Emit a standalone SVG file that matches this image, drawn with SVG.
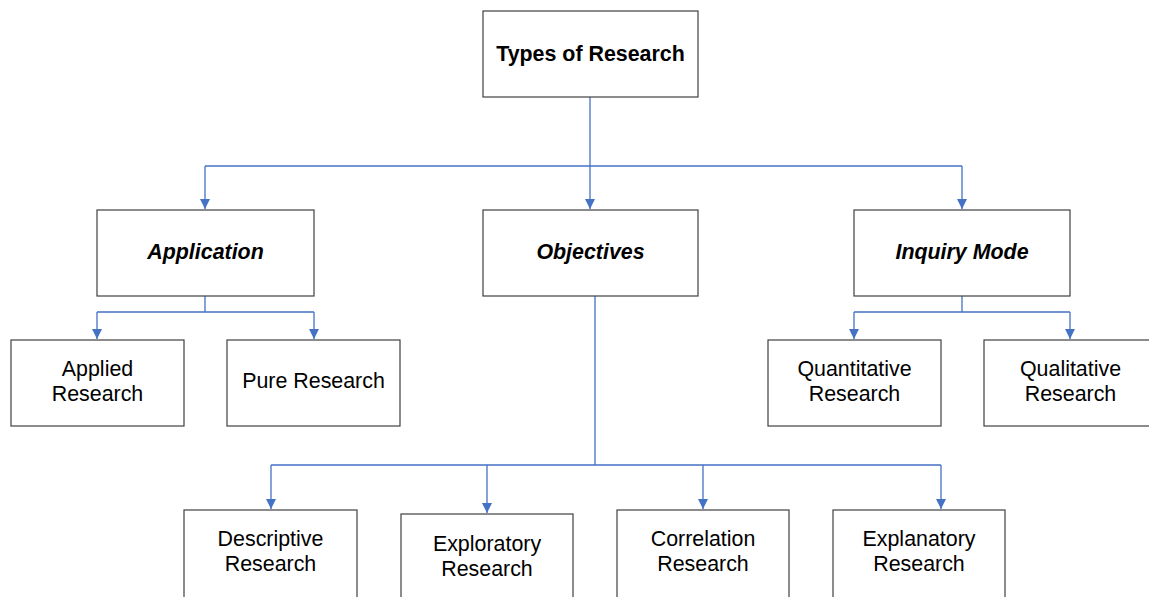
<svg xmlns="http://www.w3.org/2000/svg" width="1149" height="597" viewBox="0 0 1149 597">
<defs>
<style>
.box{fill:#fff;stroke:#404040;stroke-width:1.2}
.t{font-family:"Liberation Sans",Arial,sans-serif;font-size:21.4px;fill:#000;text-anchor:middle}
.b{font-weight:bold}
.i{font-weight:bold;font-style:italic}
.c{fill:none;stroke:#4472C4;stroke-width:1.3}
</style>
<marker id="ah" viewBox="0 0 10 10" refX="10" refY="5" markerWidth="10" markerHeight="10" markerUnits="userSpaceOnUse" orient="auto">
<path d="M0,0 L10,5 L0,10 Z" fill="#4472C4"/>
</marker>
</defs>
<rect width="1149" height="597" fill="#fff"/>
<g id="connectors">
<path class="c" d="M590,97 V166"/>
<path class="c" d="M205,166 H962"/>
<path class="c" d="M205,166 V209" marker-end="url(#ah)"/>
<path class="c" d="M590,166 V209" marker-end="url(#ah)"/>
<path class="c" d="M962,166 V209" marker-end="url(#ah)"/>
<path class="c" d="M205,296 V312 M97,312 H314"/>
<path class="c" d="M97,312 V339" marker-end="url(#ah)"/>
<path class="c" d="M314,312 V339" marker-end="url(#ah)"/>
<path class="c" d="M962,296 V312 M854,312 H1070"/>
<path class="c" d="M854,312 V339" marker-end="url(#ah)"/>
<path class="c" d="M1070,312 V339" marker-end="url(#ah)"/>
<path class="c" d="M595,296 V465 M271,465 H941"/>
<path class="c" d="M271,465 V509" marker-end="url(#ah)"/>
<path class="c" d="M487,465 V513" marker-end="url(#ah)"/>
<path class="c" d="M703,465 V509" marker-end="url(#ah)"/>
<path class="c" d="M941,465 V509" marker-end="url(#ah)"/>
</g>
<g id="types"><rect class="box" x="483" y="11" width="215" height="86"/><text class="t b" x="590.5" y="61">Types of Research</text></g>
<g id="application"><rect class="box" x="97" y="210" width="217" height="86"/><text class="t i" x="205.5" y="259">Application</text></g>
<g id="objectives"><rect class="box" x="483" y="210" width="215" height="86"/><text class="t i" x="590.5" y="259">Objectives</text></g>
<g id="inquiry"><rect class="box" x="854" y="210" width="216" height="86"/><text class="t i" x="962" y="259">Inquiry Mode</text></g>
<g id="applied"><rect class="box" x="11" y="340" width="173" height="86"/><text class="t" x="97.5" y="376">Applied</text><text class="t" x="97.5" y="401">Research</text></g>
<g id="pure"><rect class="box" x="227" y="340" width="173" height="86"/><text class="t" x="313.5" y="388">Pure Research</text></g>
<g id="quantitative"><rect class="box" x="768" y="340" width="173" height="86"/><text class="t" x="854.5" y="376">Quantitative</text><text class="t" x="854.5" y="401">Research</text></g>
<g id="qualitative"><rect class="box" x="984" y="340" width="173" height="86"/><text class="t" x="1070.5" y="376">Qualitative</text><text class="t" x="1070.5" y="401">Research</text></g>
<g id="descriptive"><rect class="box" x="184" y="510" width="173" height="90"/><text class="t" x="270.5" y="546">Descriptive</text><text class="t" x="270.5" y="571">Research</text></g>
<g id="exploratory"><rect class="box" x="401" y="514" width="172" height="90"/><text class="t" x="487" y="551">Exploratory</text><text class="t" x="487" y="576">Research</text></g>
<g id="correlation"><rect class="box" x="617" y="510" width="172" height="90"/><text class="t" x="703" y="546">Correlation</text><text class="t" x="703" y="571">Research</text></g>
<g id="explanatory"><rect class="box" x="833" y="510" width="172" height="90"/><text class="t" x="919" y="546">Explanatory</text><text class="t" x="919" y="571">Research</text></g>
</svg>
